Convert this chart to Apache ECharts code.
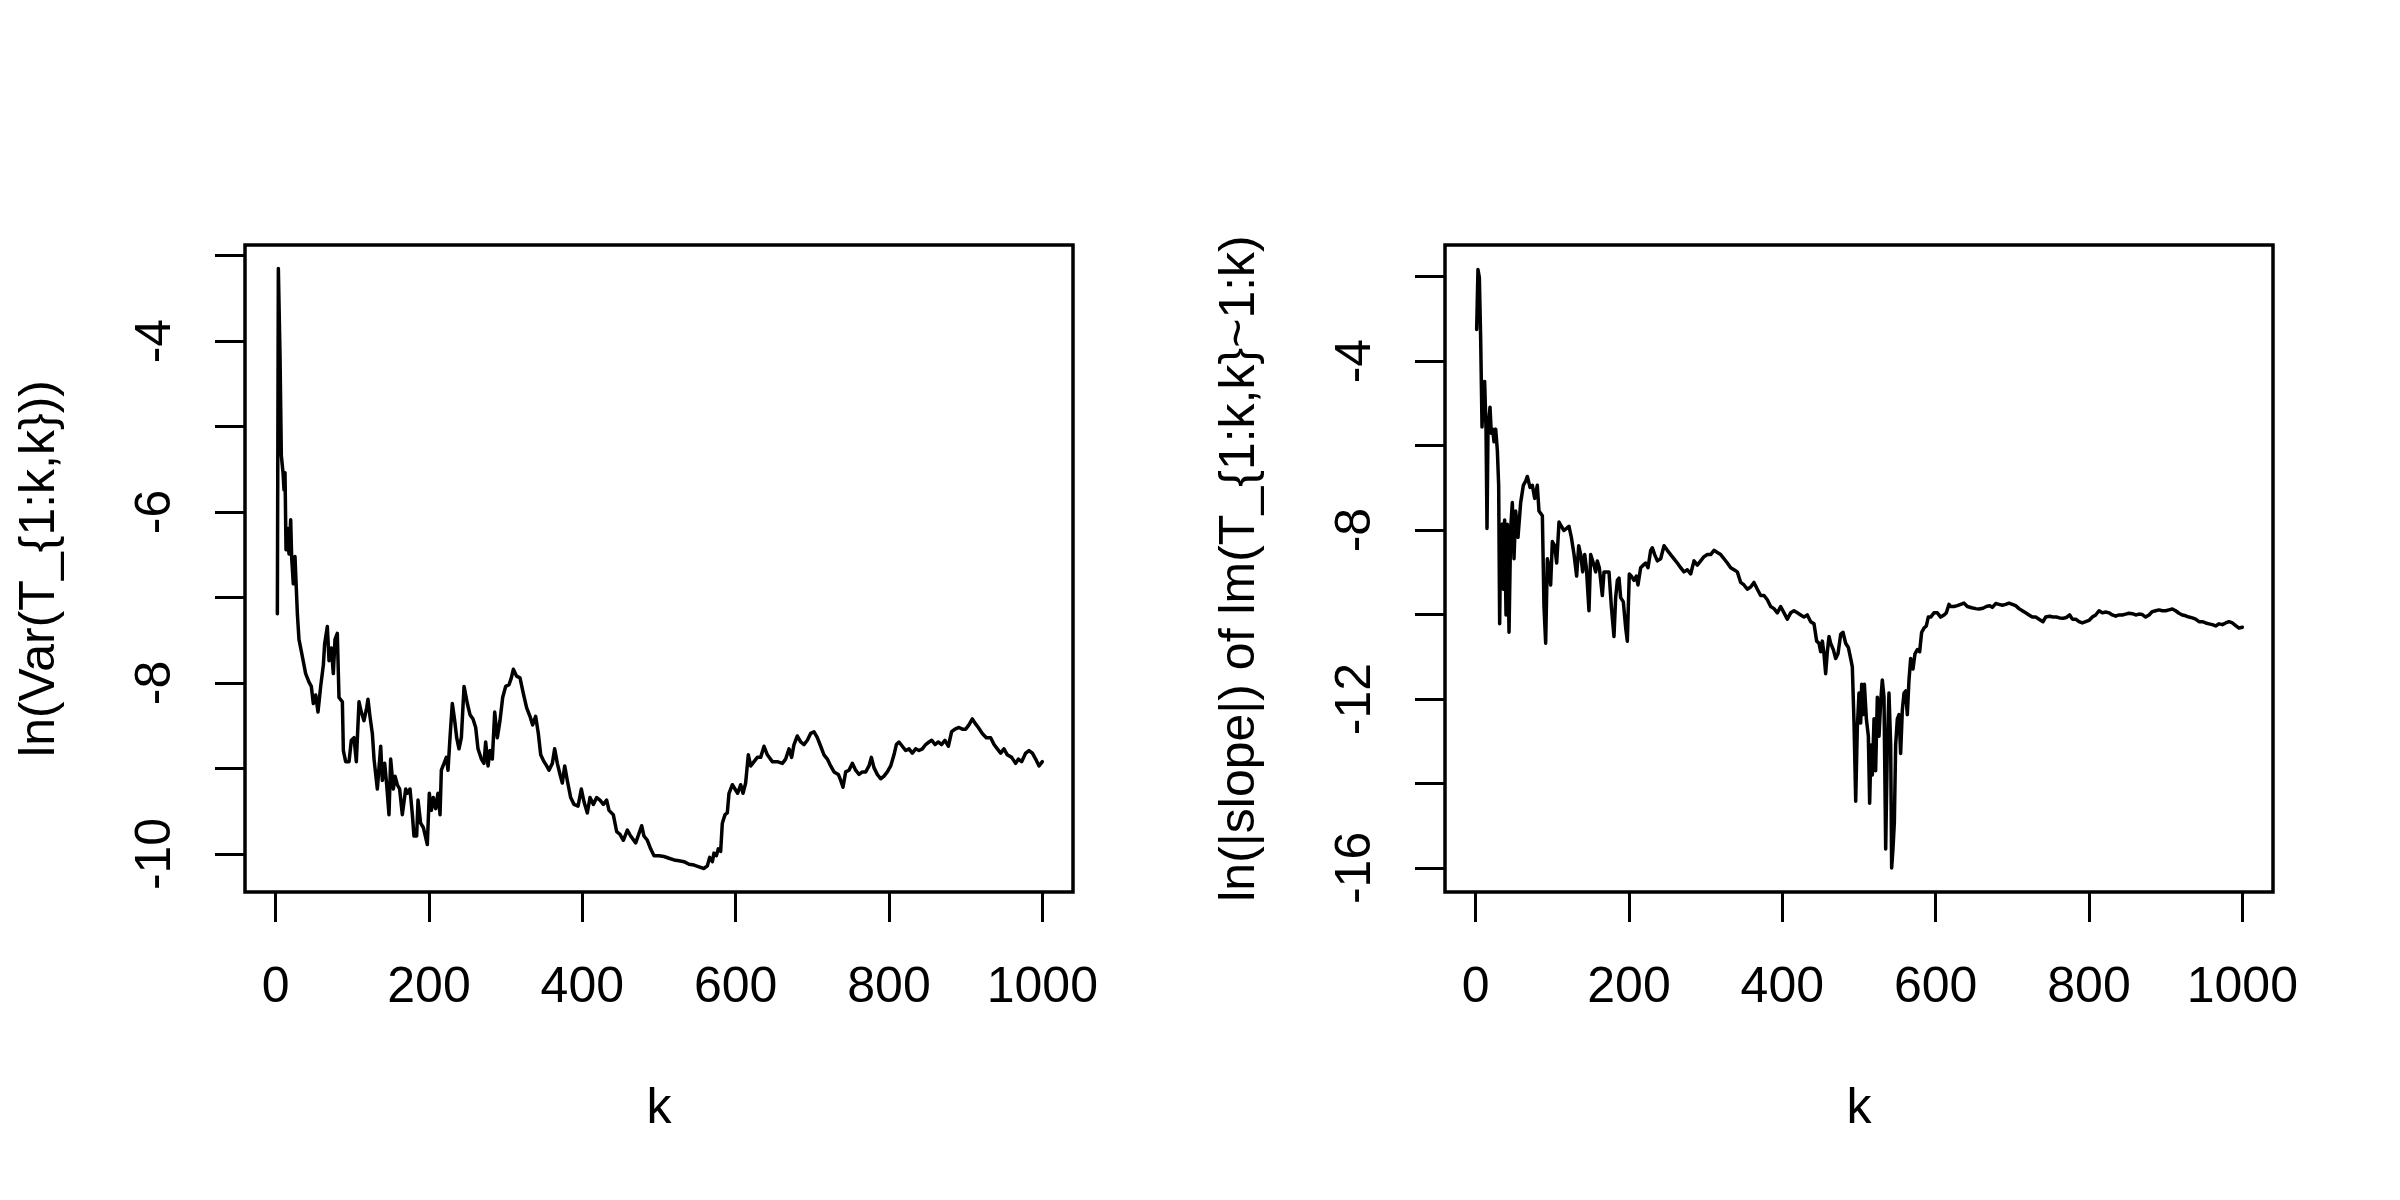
<!DOCTYPE html>
<html>
<head>
<meta charset="utf-8">
<script src="https://cdn.jsdelivr.net/npm/echarts@6/dist/echarts.min.js"></script>
<style>
html,body{margin:0;padding:0;background:#fff;}
#chart{width:2400px;height:1200px;}
</style>
</head>
<body>
<div id="chart"></div>
<script>
// ---- Data ----
const xTickValues = [0, 200, 400, 600, 800, 1000];
const leftYTicks = [-10, -9, -8, -7, -6, -5, -4, -3];
const leftYLabels = [-10, -8, -6, -4];
const rightYTicks = [-16, -14, -12, -10, -8, -6, -4, -2];
const rightYLabels = [-16, -12, -8, -4];

const leftTitle = 'ln(Var(T_{1:k,k}))';
const rightTitle = 'ln(|slope|) of lm(T_{1:k,k}~1:k)';
const xTitle = 'k';

// ln(Var) curve, k < 475
const varEarly = [[2.2,-7.19],[3.5,-3.15],[5.7,-4.19],[7.4,-5.34],[9.6,-5.54],[10.9,-5.74],[12.2,-5.54],[13.5,-6.44],[15.2,-6.19],[17.4,-6.49],[19.6,-6.09],[20.9,-6.54],[23.0,-6.84],[25.2,-6.52],[28.3,-7.19],[30.4,-7.49],[34.8,-7.69],[39.1,-7.89],[43.5,-7.99],[46.5,-8.04],[49.1,-8.24],[52.2,-8.14],[55.2,-8.34],[58.7,-8.04],[62.2,-7.79],[63.9,-7.54],[67.4,-7.34],[69.6,-7.74],[72.6,-7.59],[75.2,-7.89],[77.4,-7.49],[80.4,-7.42],[82.6,-8.17],[87.0,-8.22],[88.3,-8.79],[91.3,-8.92],[95.7,-8.92],[98.7,-8.67],[102.2,-8.64],[105.2,-8.92],[108.7,-8.22],[111.7,-8.34],[115.2,-8.44],[118.7,-8.29],[120.4,-8.19],[123.0,-8.39],[126.1,-8.59],[128.3,-8.89],[132.6,-9.24],[137.0,-8.74],[139.1,-9.14],[142.2,-8.94],[144.8,-9.19],[147.8,-9.54],[150.0,-8.89],[153.5,-9.24],[155.7,-9.09],[158.7,-9.19],[161.7,-9.24],[165.2,-9.54],[169.6,-9.24],[171.7,-9.29],[175.2,-9.24],[178.3,-9.54],[180.4,-9.79],[183.9,-9.79],[185.7,-9.37],[189.1,-9.64],[192.6,-9.69],[197.8,-9.89],[200.4,-9.29],[203.1,-9.49],[205.7,-9.34],[208.7,-9.47],[211.7,-9.29],[214.4,-9.54],[216.1,-9.02],[219.6,-8.94],[222.6,-8.87],[224.8,-9.02],[227.4,-8.64],[230.4,-8.24],[233.5,-8.44],[236.1,-8.64],[239.1,-8.77],[242.2,-8.64],[245.7,-8.04],[250.0,-8.24],[253.5,-8.37],[257.4,-8.42],[260.9,-8.52],[263.9,-8.77],[268.3,-8.89],[271.7,-8.94],[273.9,-8.69],[277.0,-8.97],[279.6,-8.79],[282.6,-8.89],[285.7,-8.34],[289.1,-8.64],[292.6,-8.44],[296.1,-8.17],[300.0,-8.04],[304.4,-8.02],[307.4,-7.94],[310.0,-7.84],[314.3,-7.92],[318.7,-7.94],[323.0,-8.12],[327.4,-8.29],[331.7,-8.39],[335.2,-8.49],[339.1,-8.39],[342.6,-8.59],[345.7,-8.84],[350.0,-8.92],[353.5,-8.97],[356.5,-9.02],[360.9,-8.94],[363.9,-8.77],[367.4,-8.94],[370.9,-9.07],[373.9,-9.17],[377.0,-8.97],[380.4,-9.14],[384.8,-9.34],[389.1,-9.42],[394.4,-9.44],[398.7,-9.24],[402.2,-9.39],[406.5,-9.52],[410.0,-9.34],[414.4,-9.42],[418.7,-9.34],[423.0,-9.37],[427.4,-9.42],[431.7,-9.37],[434.8,-9.49],[440.4,-9.54],[444.8,-9.74],[449.1,-9.77],[453.5,-9.84],[458.7,-9.72],[463.0,-9.79],[469.6,-9.87]];

// ln(Var) curve, k >= 475
const varLate = [[477.4,-9.67],[480.4,-9.79],[484.8,-9.84],[489.1,-9.94],[493.5,-10.02],[500.0,-10.02],[506.5,-10.03],[513.0,-10.05],[519.6,-10.07],[526.1,-10.08],[532.6,-10.09],[539.1,-10.12],[545.7,-10.13],[552.2,-10.15],[558.7,-10.17],[563.0,-10.14],[566.1,-10.04],[569.6,-10.09],[571.7,-9.99],[574.8,-10.02],[577.4,-9.94],[580.4,-9.97],[582.6,-9.64],[586.1,-9.54],[589.1,-9.52],[591.3,-9.29],[595.7,-9.19],[599.1,-9.24],[602.6,-9.29],[606.5,-9.19],[609.6,-9.29],[613.0,-9.17],[616.5,-8.84],[619.6,-8.97],[623.9,-8.92],[628.3,-8.87],[632.6,-8.87],[637.0,-8.74],[641.3,-8.84],[647.8,-8.92],[654.3,-8.92],[660.9,-8.94],[665.2,-8.89],[669.6,-8.77],[673.0,-8.87],[676.1,-8.72],[680.4,-8.62],[684.8,-8.69],[689.1,-8.72],[693.5,-8.67],[697.8,-8.59],[702.2,-8.57],[706.5,-8.64],[710.9,-8.74],[715.2,-8.84],[719.6,-8.89],[723.9,-8.97],[728.3,-9.04],[733.9,-9.07],[737.0,-9.14],[740.0,-9.22],[743.5,-9.04],[747.8,-9.02],[752.2,-8.94],[756.5,-9.02],[760.9,-9.07],[765.2,-9.04],[769.6,-9.04],[773.9,-8.97],[777.0,-8.87],[780.4,-8.99],[784.8,-9.07],[789.1,-9.12],[793.5,-9.09],[797.8,-9.04],[802.2,-8.97],[806.5,-8.84],[809.6,-8.72],[813.0,-8.69],[817.4,-8.74],[821.7,-8.79],[826.1,-8.77],[830.4,-8.82],[834.8,-8.77],[839.1,-8.79],[843.5,-8.77],[847.8,-8.72],[852.2,-8.69],[855.7,-8.67],[860.0,-8.72],[864.3,-8.69],[868.7,-8.72],[873.0,-8.67],[877.4,-8.74],[881.7,-8.57],[886.1,-8.54],[891.3,-8.52],[895.7,-8.54],[900.0,-8.54],[904.3,-8.49],[908.7,-8.42],[912.2,-8.47],[916.5,-8.52],[921.7,-8.59],[927.0,-8.64],[932.6,-8.64],[937.0,-8.72],[941.3,-8.77],[945.7,-8.82],[950.0,-8.77],[954.3,-8.84],[960.0,-8.87],[965.2,-8.94],[968.7,-8.89],[973.0,-8.92],[978.3,-8.82],[982.6,-8.79],[987.0,-8.82],[991.3,-8.89],[995.7,-8.97],[1000.0,-8.92]];

// ln(|slope|) curve, k < 475
const slopeEarly = [[1.3,-3.25],[3.0,-1.83],[4.8,-2.02],[6.5,-3.45],[8.3,-5.56],[10.0,-4.68],[11.7,-4.48],[13.5,-5.61],[14.8,-7.96],[16.1,-5.61],[18.7,-5.09],[20.4,-5.71],[22.2,-5.61],[23.9,-5.91],[26.1,-5.61],[28.3,-6.12],[30.0,-6.94],[31.3,-10.22],[32.6,-7.96],[34.8,-7.86],[36.1,-9.40],[37.8,-7.76],[39.6,-10.01],[41.3,-7.86],[43.5,-10.42],[45.7,-7.96],[47.8,-7.35],[50.0,-8.68],[52.2,-7.55],[55.2,-8.17],[58.7,-7.35],[62.2,-6.94],[65.2,-6.84],[67.4,-6.73],[70.9,-6.99],[73.9,-6.94],[77.0,-7.25],[80.4,-6.94],[82.6,-7.55],[87.0,-7.66],[89.1,-9.81],[91.3,-10.68],[93.5,-8.68],[95.7,-8.89],[97.8,-9.30],[100.0,-8.27],[103.0,-8.37],[105.7,-8.78],[108.7,-7.81],[111.7,-7.91],[115.2,-8.01],[118.7,-7.96],[121.7,-7.91],[124.8,-8.17],[128.3,-8.58],[131.7,-9.09],[134.4,-8.37],[137.0,-8.58],[139.6,-8.99],[142.2,-8.58],[144.4,-8.89],[147.8,-9.91],[150.0,-8.58],[153.5,-8.78],[156.5,-8.99],[158.7,-8.73],[161.3,-8.89],[165.2,-9.55],[167.4,-8.99],[170.4,-8.99],[173.9,-8.99],[177.0,-9.81],[180.4,-10.52],[182.6,-9.60],[184.8,-9.19],[187.0,-9.14],[189.1,-9.60],[192.6,-9.70],[195.7,-10.32],[197.8,-10.63],[200.4,-9.04],[203.1,-9.09],[206.5,-9.19],[209.6,-9.09],[211.7,-9.30],[215.2,-8.89],[218.7,-8.83],[221.7,-8.78],[224.8,-8.89],[228.3,-8.48],[230.4,-8.42],[233.5,-8.58],[237.0,-8.73],[241.3,-8.68],[245.7,-8.37],[250.0,-8.48],[254.3,-8.58],[258.7,-8.68],[263.0,-8.78],[267.4,-8.89],[271.7,-8.99],[276.1,-8.94],[280.4,-9.04],[284.8,-8.73],[289.1,-8.83],[293.5,-8.73],[297.8,-8.63],[302.2,-8.58],[306.5,-8.58],[310.9,-8.48],[315.2,-8.53],[319.6,-8.58],[323.9,-8.68],[328.3,-8.78],[332.6,-8.89],[337.0,-8.94],[341.3,-8.99],[345.7,-9.24],[350.0,-9.30],[354.3,-9.40],[358.7,-9.35],[363.0,-9.24],[367.4,-9.40],[371.7,-9.55],[376.1,-9.55],[380.4,-9.65],[384.8,-9.81],[389.1,-9.86],[393.5,-9.96],[397.8,-9.81],[402.2,-9.96],[406.5,-10.11],[410.9,-9.96],[415.2,-9.91],[419.6,-9.96],[423.9,-10.01],[428.3,-10.06],[432.6,-10.01],[437.0,-10.17],[441.3,-10.22],[444.8,-10.63],[447.8,-10.68],[450.0,-10.88],[452.2,-10.63],[454.3,-10.93],[456.5,-11.40],[458.7,-10.88],[460.9,-10.52],[463.0,-10.68],[466.5,-10.83],[469.6,-11.04],[472.6,-10.93]];

// ln(|slope|) curve, k >= 475
const slopeLate = [[476.1,-10.47],[479.1,-10.42],[482.6,-10.68],[486.1,-10.78],[489.1,-11.04],[491.3,-11.24],[493.5,-12.57],[495.7,-14.42],[497.8,-12.68],[500.0,-11.86],[502.2,-12.57],[503.5,-11.65],[505.2,-12.37],[507.0,-11.65],[509.6,-12.47],[512.2,-12.88],[513.9,-14.47],[515.7,-13.09],[517.4,-13.80],[519.6,-12.47],[521.7,-13.70],[523.9,-11.96],[526.1,-12.88],[528.3,-12.06],[530.4,-11.55],[532.6,-11.96],[534.8,-15.55],[537.0,-13.09],[539.1,-11.86],[541.3,-13.09],[542.6,-16.0],[544.3,-15.55],[546.1,-14.93],[547.8,-13.09],[550.0,-12.47],[552.2,-12.37],[554.3,-13.29],[556.5,-12.27],[558.7,-11.86],[560.9,-11.81],[563.0,-12.37],[565.2,-11.55],[567.4,-11.04],[570.4,-11.29],[573.0,-10.93],[576.1,-10.83],[579.1,-10.88],[581.7,-10.42],[584.8,-10.32],[587.8,-10.27],[590.4,-10.06],[593.5,-10.06],[597.8,-9.96],[602.2,-9.96],[606.5,-10.06],[610.9,-10.01],[613.9,-9.96],[617.4,-9.76],[619.6,-9.81],[623.9,-9.81],[628.3,-9.79],[632.6,-9.76],[637.0,-9.73],[641.3,-9.81],[647.0,-9.84],[652.2,-9.86],[656.5,-9.87],[661.7,-9.85],[666.1,-9.81],[670.4,-9.79],[673.9,-9.83],[678.3,-9.74],[682.6,-9.76],[687.0,-9.78],[691.3,-9.76],[695.7,-9.73],[700.0,-9.76],[704.3,-9.79],[708.7,-9.86],[713.0,-9.91],[717.4,-9.96],[721.7,-10.01],[726.1,-10.06],[730.4,-10.06],[734.8,-10.11],[740.0,-10.17],[743.5,-10.06],[748.7,-10.04],[753.0,-10.06],[757.4,-10.06],[761.7,-10.08],[766.1,-10.09],[770.4,-10.07],[774.8,-10.01],[778.3,-10.11],[782.6,-10.11],[787.0,-10.17],[791.3,-10.20],[795.7,-10.17],[800.0,-10.14],[804.3,-10.06],[808.7,-10.01],[813.0,-9.91],[817.4,-9.96],[821.7,-9.94],[826.1,-9.96],[830.4,-10.01],[834.8,-10.04],[839.1,-10.01],[843.5,-10.01],[847.8,-9.99],[852.2,-9.97],[856.5,-9.98],[860.9,-10.01],[865.2,-9.99],[869.6,-10.00],[873.9,-10.06],[878.3,-10.01],[882.6,-9.93],[887.0,-9.91],[891.3,-9.89],[895.7,-9.91],[900.0,-9.91],[904.3,-9.89],[908.7,-9.87],[913.0,-9.91],[917.4,-9.97],[921.7,-10.01],[926.1,-10.03],[930.4,-10.06],[934.8,-10.08],[939.1,-10.11],[943.5,-10.17],[947.8,-10.17],[952.2,-10.20],[956.5,-10.22],[960.9,-10.24],[965.2,-10.27],[969.6,-10.22],[973.9,-10.24],[978.3,-10.20],[982.6,-10.17],[987.0,-10.20],[991.3,-10.26],[995.7,-10.32],[1000.0,-10.30]];

// axis limits (R style 4% padding)
const xLimits = [-40, 1040];
const leftYLimits = [-10.445, -2.876];
const rightYLimits = [-16.57, -1.25];

// ---- Chart ----
const FONT = 'Liberation Sans, Arial, Helvetica, sans-serif';
const INK = '#000';
const plainNum = function (v) { return String(v); };

function xAxisDef(gridIndex) {
  return {
    type: 'value', gridIndex: gridIndex,
    min: xLimits[0], max: xLimits[1],
    axisLine: { show: false, onZero: false },
    axisTick: { show: true, length: 30, lineStyle: { color: INK, width: 3 }, customValues: xTickValues },
    axisLabel: { show: true, margin: 71, fontSize: 50, fontFamily: FONT, color: INK, customValues: xTickValues, formatter: plainNum },
    splitLine: { show: false },
    name: xTitle, nameLocation: 'middle', nameGap: 192,
    nameTextStyle: { fontSize: 50, fontFamily: FONT, color: INK }
  };
}
function yAxisDef(gridIndex, lim, ticks, labels, title) {
  return {
    type: 'value', gridIndex: gridIndex,
    min: lim[0], max: lim[1],
    axisLine: { show: false, onZero: false },
    axisTick: { show: true, length: 30, lineStyle: { color: INK, width: 3 }, customValues: ticks },
    axisLabel: { show: true, rotate: 90, margin: 64, fontSize: 50, fontFamily: FONT, color: INK, customValues: labels, formatter: plainNum },
    splitLine: { show: false },
    name: title, nameLocation: 'middle', nameGap: 180,
    nameTextStyle: { fontSize: 50, fontFamily: FONT, color: INK }
  };
}
function lineSeries(idx, data) {
  return {
    type: 'line', xAxisIndex: idx, yAxisIndex: idx, data: data,
    showSymbol: false, symbol: 'none', animation: false,
    lineStyle: { color: INK, width: 3.5, join: 'round', cap: 'round' }
  };
}

const chart = echarts.init(document.getElementById('chart'), null, { renderer: 'canvas' });
chart.setOption({
  backgroundColor: '#fff',
  animation: false,
  grid: [
    { left: 245, top: 245, width: 828, height: 647, show: true, borderColor: INK, borderWidth: 3.5, backgroundColor: 'transparent', containLabel: false },
    { left: 1445, top: 245, width: 828, height: 647, show: true, borderColor: INK, borderWidth: 3.5, backgroundColor: 'transparent', containLabel: false }
  ],
  xAxis: [xAxisDef(0), xAxisDef(1)],
  yAxis: [
    yAxisDef(0, leftYLimits, leftYTicks, leftYLabels, leftTitle),
    yAxisDef(1, rightYLimits, rightYTicks, rightYLabels, rightTitle)
  ],
  series: [
    lineSeries(0, varEarly.concat(varLate)),
    lineSeries(1, slopeEarly.concat(slopeLate))
  ]
});
</script>
</body>
</html>
